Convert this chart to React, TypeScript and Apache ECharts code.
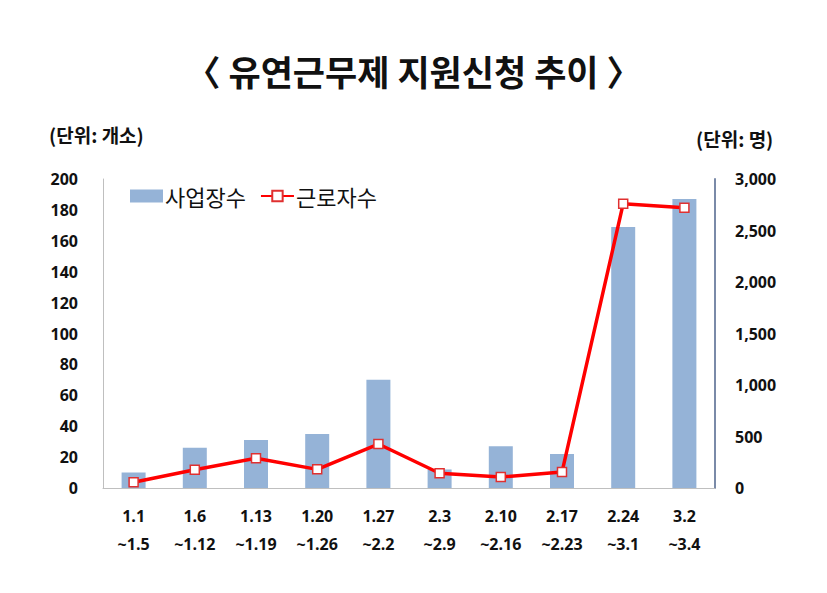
import React, { useEffect, useRef } from "react";
import * as echarts from "echarts";

const categories = ["1.1\n~1.5", "1.6\n~1.12", "1.13\n~1.19", "1.20\n~1.26", "1.27\n~2.2", "2.3\n~2.9", "2.10\n~2.16", "2.17\n~2.23", "2.24\n~3.1", "3.2\n~3.4"];
const workplaces = [10, 26, 31, 35, 70, 12, 27, 22, 169, 187];
const workers = [55, 178, 288, 181, 427, 143, 107, 155, 2760, 2722];

const FONT = "'Noto Sans CJK KR', 'Noto Sans', sans-serif";
const NUM_FONT = "'Open Sans', 'Liberation Sans', sans-serif";

export default function App() {
  const ref = useRef<HTMLDivElement>(null);
  useEffect(() => {
    const chart = echarts.init(ref.current!, null, { renderer: "svg" });
    chart.setOption({
      animation: false,
      backgroundColor: "#ffffff",
      title: {
        text: "〈 유연근무제 지원신청 추이 〉",
        left: "center",
        top: 40,
        textStyle: { fontFamily: FONT, fontSize: 35, fontWeight: "bold", color: "#111" },
      },
      graphic: [
        { type: "text", left: 41, top: 117, style: { text: "(단위: 개소)", font: `bold 19px ${FONT}`, fill: "#111" } },
        { type: "text", left: 688, top: 121, style: { text: "(단위: 명)", font: `bold 19px ${FONT}`, fill: "#111" } },
      ],
      legend: {
        left: 117,
        top: 172,
        itemGap: 14,
        itemWidth: 33,
        itemHeight: 13,
        textStyle: { fontFamily: FONT, fontSize: 22, color: "#111", padding: [0, 0, 0, -3] },
        data: [
          { name: "사업장수", icon: "rect" },
          { name: "근로자수" },
        ],
      },
      grid: { left: 95, right: 104, top: 171, bottom: 97, containLabel: false },
      xAxis: {
        type: "category",
        data: categories,
        axisLine: { lineStyle: { color: "#bfbfbf", width: 1 } },
        axisTick: { show: false },
        axisLabel: {
          interval: 0,
          margin: 14,
          fontFamily: NUM_FONT,
          fontWeight: "bold",
          fontSize: 16,
          lineHeight: 28,
          color: "#111",
        },
      },
      yAxis: [
        {
          type: "value",
          min: 0,
          max: 200,
          interval: 20,
          splitLine: { show: false },
          axisLine: { show: true, lineStyle: { color: "#bfbfbf" } },
          axisTick: { show: false },
          axisLabel: { margin: 25, fontFamily: NUM_FONT, fontWeight: "bold", fontSize: 16, color: "#111" },
        },
        {
          type: "value",
          min: 0,
          max: 3000,
          interval: 500,
          splitLine: { show: false },
          axisLine: { show: true, lineStyle: { color: "#7a8aa8", width: 2 } },
          axisTick: { show: false },
          axisLabel: {
            margin: 20,
            fontFamily: NUM_FONT,
            fontWeight: "bold",
            fontSize: 16,
            color: "#111",
            formatter: (v: number) => v.toLocaleString("en-US"),
          },
        },
      ],
      series: [
        {
          name: "사업장수",
          type: "bar",
          yAxisIndex: 0,
          data: workplaces,
          barWidth: 24,
          itemStyle: { color: "#95b3d7" },
        },
        {
          name: "근로자수",
          type: "line",
          yAxisIndex: 1,
          data: workers,
          symbol: "rect",
          symbolSize: 9,
          lineStyle: { color: "#ff0000", width: 3.5 },
          itemStyle: { color: "#ffffff", borderColor: "#e03030", borderWidth: 1.5 },
        },
      ],
    });
    return () => chart.dispose();
  }, []);
  return <div ref={ref} style={{ width: 811, height: 577 }} />;
}
